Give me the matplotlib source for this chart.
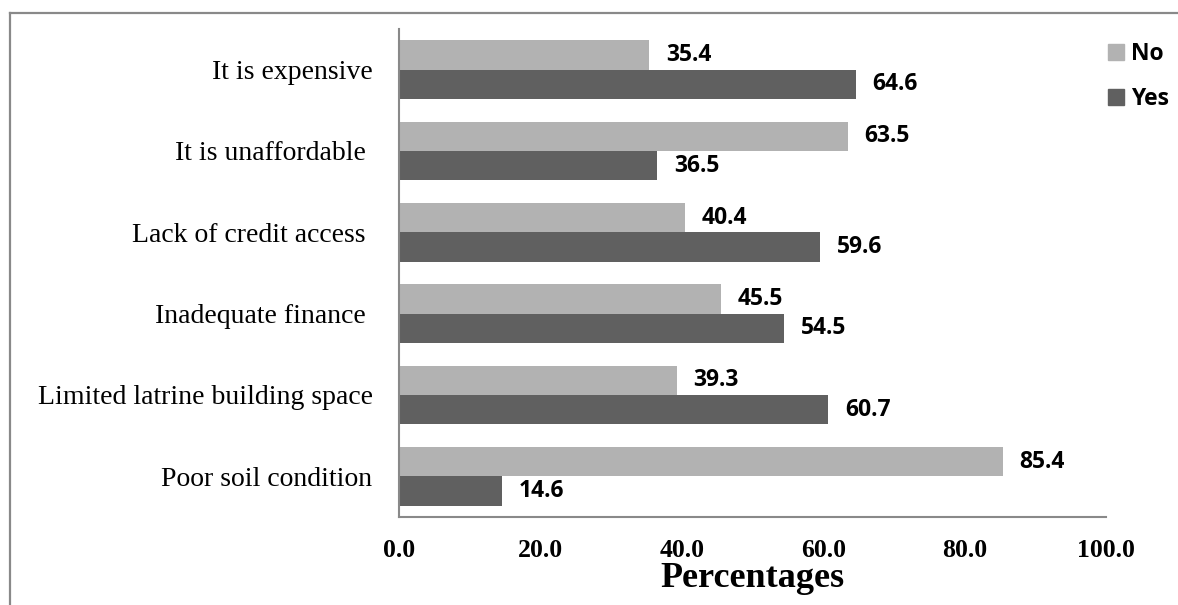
import numpy as np
import matplotlib.pyplot as plt
from matplotlib.lines import Line2D
from matplotlib.patches import Patch

categories = ["It is expensive", "It is unaffordable ", "Lack of credit access ",
              "Inadequate finance ", "Limited latrine building space", "Poor soil condition"]
no_vals = [35.4, 63.5, 40.4, 45.5, 39.3, 85.4]
yes_vals = [64.6, 36.5, 59.6, 54.5, 60.7, 14.6]
xticks = [0, 20, 40, 60, 80, 100]

c_no = "#b2b2b2"
c_yes = "#606060"
edge = "#898989"

fig = plt.figure(figsize=(11.78, 6.05), dpi=100)
ax = fig.add_axes([399 / 1178, 1 - 517 / 605, 707 / 1178, 488 / 605])

# outer chart border (cut off at right and bottom like the source)
fig.add_artist(Line2D([10 / 1178, 1.0], [1 - 13 / 605, 1 - 13 / 605], color=edge, lw=1.6))
fig.add_artist(Line2D([10 / 1178, 10 / 1178], [0.0, 1 - 13 / 605], color=edge, lw=1.6))

n = len(categories)
y = np.arange(n)[::-1]
h = 0.362
ax.barh(y + h / 2, no_vals, height=h, color=c_no, label="No")
ax.barh(y - h / 2, yes_vals, height=h, color=c_yes, label="Yes")

lab_font = dict(family="Open Sans", weight="bold", size=16.5, color="black")
for yi, v in zip(y, no_vals):
    ax.annotate(f"{v:.1f}", (v, yi + h / 2), xytext=(12, 0), textcoords="offset points",
                va="center", ha="left", **lab_font)
for yi, v in zip(y, yes_vals):
    ax.annotate(f"{v:.1f}", (v, yi - h / 2), xytext=(12, 0), textcoords="offset points",
                va="center", ha="left", **lab_font)

ax.set_xlim(0, 100)
ax.set_ylim(-0.5, n - 0.5)
ax.set_yticks(y)
ax.set_yticklabels(categories, family="Liberation Serif", size=20)
ax.set_xticks(xticks)
ax.set_xticklabels([f"{t:.1f}" for t in xticks], family="Liberation Serif",
                   weight="bold", size=18.5)
ax.tick_params(axis="both", length=0)
ax.tick_params(axis="y", pad=19)
ax.tick_params(axis="x", pad=16)
ax.set_xlabel("Percentages", family="Liberation Serif", weight="bold", size=26, labelpad=0)

for s in ["top", "right"]:
    ax.spines[s].set_visible(False)
for s in ["left", "bottom"]:
    ax.spines[s].set_color(edge)
    ax.spines[s].set_linewidth(1.5)

handles = [Patch(color=c_no), Patch(color=c_yes)]
fig.legend(handles, ["No", "Yes"], loc="upper left", bbox_to_anchor=(1108 / 1178, 1 - 42 / 605),
           frameon=False, prop=dict(family="Open Sans", weight="bold", size=16.5),
           handlelength=0.7, handleheight=0.7, handletextpad=0.3, labelspacing=0.92,
           borderpad=0, borderaxespad=0)

fig.savefig("out.png", dpi=100)
